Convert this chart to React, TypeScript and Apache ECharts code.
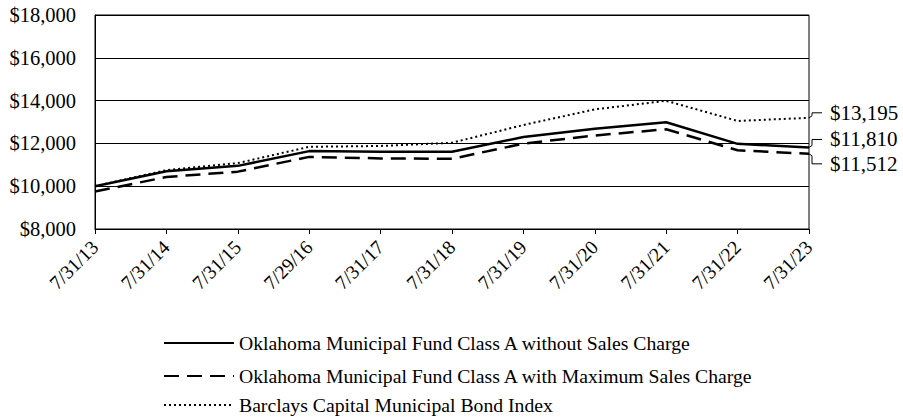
import React, { useEffect, useRef } from "react";
import * as echarts from "echarts";

const categories = ["7/31/13", "7/31/14", "7/31/15", "7/29/16", "7/31/17", "7/31/18", "7/31/19", "7/31/20", "7/31/21", "7/31/22", "7/31/23"];
const withoutSalesCharge = [10000, 10700, 10950, 11640, 11610, 11610, 12300, 12690, 12990, 11980, 11810];
const withMaxSalesCharge = [9750, 10430, 10680, 11370, 11300, 11280, 11990, 12370, 12660, 11680, 11512];
const bondIndex = [10000, 10750, 11080, 11840, 11880, 12030, 12860, 13590, 13990, 13050, 13195];
const seriesNames = [
  "Oklahoma Municipal Fund Class A without Sales Charge",
  "Oklahoma Municipal Fund Class A with Maximum Sales Charge",
  "Barclays Capital Municipal Bond Index",
];
const endLabels = ["$11,810", "$11,512", "$13,195"];
const yTicks = { min: 8000, max: 18000, interval: 2000 };

const FONT = "'Liberation Serif', 'Times New Roman', serif";

function fmt(v: number) {
  return "$" + v.toString().replace(/\B(?=(\d{3})+(?!\d))/g, ",");
}

export default function App() {
  const ref = useRef<HTMLDivElement>(null);
  useEffect(() => {
    document.body.style.margin = "0";
    const chart = echarts.init(ref.current!, null, { renderer: "svg" });
    const legendBase = {
      left: 163,
      orient: "horizontal",
      padding: 0,
      itemWidth: 70,
      itemHeight: 14,
      itemGap: 5,
      itemStyle: { opacity: 0, borderWidth: 0 },
      textStyle: { fontFamily: FONT, fontSize: 19.7, color: "#000" },
      selectedMode: false,
    };
    chart.setOption({
      animation: false,
      backgroundColor: "#fff",
      grid: {
        left: 95,
        right: 94,
        top: 15,
        bottom: 189,
        show: true,
        borderColor: "#000",
        borderWidth: 1,
      },
      legend: [
        { ...legendBase, data: [seriesNames[0]], top: 333 },
        { ...legendBase, data: [seriesNames[1]], top: 366 },
        { ...legendBase, data: [seriesNames[2]], top: 395 },
      ],
      xAxis: {
        type: "category",
        data: categories,
        boundaryGap: false,
        axisLine: { lineStyle: { color: "#000", width: 1 } },
        axisTick: { show: true, alignWithLabel: true, length: 5, lineStyle: { color: "#000" } },
        axisLabel: {
          rotate: 45,
          interval: 0,
          margin: 15,
          color: "#000",
          fontFamily: FONT,
          fontSize: 19.5,
        },
        splitLine: { show: false },
      },
      yAxis: {
        type: "value",
        min: yTicks.min,
        max: yTicks.max,
        interval: yTicks.interval,
        axisLine: { show: true, lineStyle: { color: "#000" } },
        axisTick: { show: false },
        axisLabel: {
          formatter: (v: number) => fmt(v),
          color: "#000",
          fontFamily: FONT,
          fontSize: 20.5,
          margin: 19,
        },
        splitLine: { show: true, lineStyle: { color: "#000", width: 1 } },
      },
      series: [
        {
          name: seriesNames[0],
          type: "line",
          data: withoutSalesCharge,
          symbol: "none",
          lineStyle: { color: "#000", width: 2.5, type: "solid" },
          itemStyle: { color: "#000" },
        },
        {
          name: seriesNames[1],
          type: "line",
          data: withMaxSalesCharge,
          symbol: "none",
          lineStyle: { color: "#000", width: 2.5, type: [15, 8] },
          itemStyle: { color: "#000" },
        },
        {
          name: seriesNames[2],
          type: "line",
          data: bondIndex,
          symbol: "none",
          lineStyle: { color: "#000", width: 2, type: [2, 3] },
          itemStyle: { color: "#000" },
        },
      ],
    });

    const last = categories.length - 1;
    const finals = [withoutSalesCharge[last], withMaxSalesCharge[last], bondIndex[last]];
    const offsets = [-8, 10, -5];
    const graphics: any[] = [];
    finals.forEach((v, k) => {
      const p = chart.convertToPixel({ gridIndex: 0 }, [last, v]) as number[];
      const ly = p[1] + offsets[k];
      graphics.push({
        type: "polyline",
        shape: {
          points: [
            [p[0], p[1]],
            [p[0] + 3, p[1] + (offsets[k] > 0 ? 2 : -2)],
            [p[0] + 3, ly],
            [p[0] + 13, ly],
          ],
        },
        style: { stroke: "#000", lineWidth: 1, fill: null },
      });
      graphics.push({
        type: "text",
        x: p[0] + 21,
        y: ly,
        style: {
          text: endLabels[k],
          fontFamily: FONT,
          fontSize: 21,
          fill: "#000",
          verticalAlign: "middle",
          align: "left",
        },
      });
    });
    chart.setOption({ graphic: graphics });

    return () => chart.dispose();
  }, []);
  return <div ref={ref} style={{ width: 903, height: 418 }} />;
}
